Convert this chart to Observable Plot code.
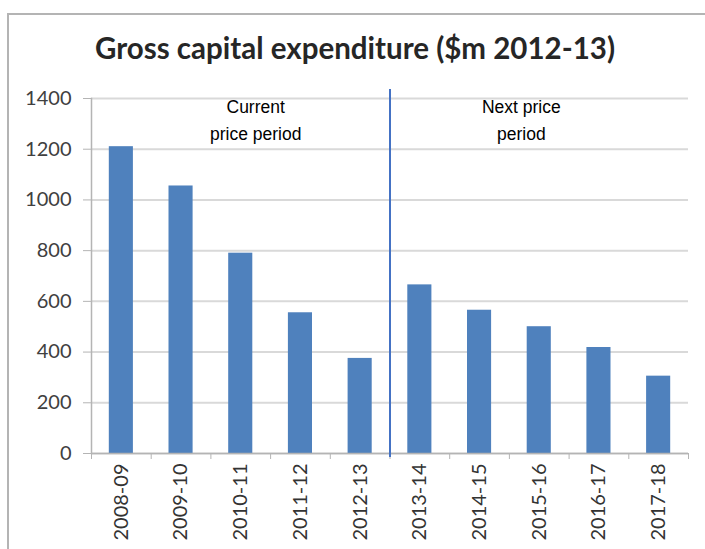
<!DOCTYPE html>
<html>
<head>
<meta charset="utf-8">
<script src="https://cdn.jsdelivr.net/npm/d3@7"></script>
<script src="https://cdn.jsdelivr.net/npm/@observablehq/plot@0.6"></script>
<style>
  html, body { margin: 0; padding: 0; background: #fff; }
  #wrap { position: relative; width: 705px; height: 549px; overflow: hidden; background: #fff; }
  #frame { position: absolute; left: 7px; top: 13px; right: -5px; bottom: -5px;
           border-top: 2px solid #b4b4b4; border-left: 2px solid #b4b4b4; }
  #title { position: absolute; left: 0; width: 710px; top: 31px; text-align: center;
           font-family: Lato, sans-serif; font-weight: 700; font-size: 29.5px; line-height: 34px; color: #262626; }
  #chart { position: absolute; left: 0; top: 0; }
</style>
</head>
<body>
<div id="wrap">
  <div id="frame"></div>
  <div id="title">Gross capital expenditure ($m 2012-13)</div>
  <div id="chart"></div>
</div>
<script>
const categories = ["2008-09","2009-10","2010-11","2011-12","2012-13","2013-14","2014-15","2015-16","2016-17","2017-18"];
const values = [1210, 1055, 790, 555, 375, 665, 565, 500, 418, 305];
const yTicks = [0, 200, 400, 600, 800, 1000, 1200, 1400];
const dividerAt = [5];
const noteText = ["Current\nprice period", "Next price\nperiod"];
const noteX = [2.75, 7.2];
const noteY = [1325, 1325];

const data = categories.map((c, i) => ({c, v: values[i], i}));
const notes = noteText.map((t, i) => ({t, x: noteX[i], y: noteY[i]}));
const boundaries = d3.range(categories.length + 1);

const chart = Plot.plot({
  width: 705,
  height: 549,
  marginTop: 98,
  marginBottom: 96,
  marginLeft: 91,
  marginRight: 17,
  style: {background: "transparent", fontFamily: "Lato, sans-serif", fontSize: "20px", color: "#404040"},
  x: {domain: [0, categories.length], axis: null},
  y: {domain: [0, 1400], axis: null},
  marks: [
    Plot.gridY(yTicks, {stroke: "#d9d9d9", strokeOpacity: 1, strokeWidth: 2}),
    Plot.rectY(data, {x1: "i", x2: d => d.i + 1, y: "v", fill: "#4f81bd", insetLeft: 17.8, insetRight: 17.8}),
    Plot.ruleY([0], {stroke: "#b4b4b4", strokeWidth: 1.5}),
    Plot.frame({anchor: "left", stroke: "#b4b4b4", strokeWidth: 1.5}),
    Plot.axisY({ticks: yTicks, tickSize: 8, tickPadding: 12, tickFormat: d => String(d), stroke: "#b4b4b4", fill: "#404040", label: null}),
    Plot.axisX({ticks: boundaries, tickSize: 6, tickFormat: () => "", stroke: "#b4b4b4", label: null}),
    Plot.text(data, {x: d => d.i + 0.5, y: 0, text: "c", rotate: -90, textAnchor: "end", dy: 10, fill: "#333", fontSize: 20}),
    Plot.ruleX(dividerAt, {stroke: "#4472c4", strokeWidth: 2, insetTop: -9, insetBottom: -4}),
    Plot.text(notes, {x: "x", y: "y", text: "t", fontFamily: "'Liberation Sans', Arial, sans-serif", fontSize: 17.5, fill: "#000", lineHeight: 1.55})
  ]
});
document.getElementById("chart").appendChild(chart);
</script>
</body>
</html>
